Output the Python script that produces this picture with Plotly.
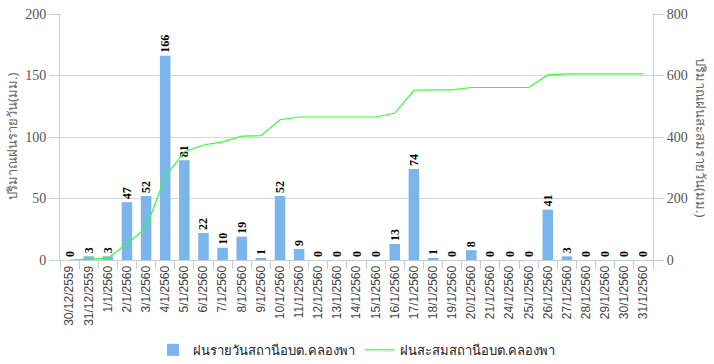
import plotly.graph_objects as go

categories = ["30/12/2559", "31/12/2559", "1/1/2560", "2/1/2560", "3/1/2560", "4/1/2560",
              "5/1/2560", "6/1/2560", "7/1/2560", "8/1/2560", "9/1/2560", "10/1/2560",
              "11/1/2560", "12/1/2560", "13/1/2560", "14/1/2560", "15/1/2560", "16/1/2560",
              "17/1/2560", "18/1/2560", "19/1/2560", "20/1/2560", "21/1/2560", "24/1/2560",
              "25/1/2560", "26/1/2560", "27/1/2560", "28/1/2560", "29/1/2560", "30/1/2560",
              "31/1/2560"]
daily_rain = [0, 3, 3, 47, 52, 166, 81, 22, 10, 19, 1, 52, 9, 0, 0, 0, 0, 13, 74, 1, 0, 8,
              0, 0, 0, 41, 3, 0, 0, 0, 0]
cumulative_rain = [0, 3, 6, 53, 105, 271, 352, 374, 384, 403, 404, 456, 465, 465, 465, 465,
                   465, 478, 552, 553, 553, 561, 561, 561, 561, 602, 605, 605, 605, 605, 605]

left_ticks = [0, 50, 100, 150, 200]
right_ticks = [0, 200, 400, 600, 800]

axis_col = "#c0d0e0"
grid_col = "#d8d8d8"

fig = go.Figure()
fig.add_trace(go.Bar(
    x=categories, y=daily_rain, name="ฝนรายวันสถานีอบต.คลองพา",
    marker_color="#7cb5ec", marker_line_width=0,
    text=[str(v) for v in daily_rain], textposition="outside", textangle=-90,
    constraintext="none",
    textfont=dict(family="Liberation Serif", size=12, color="#000000", weight="bold"),
    cliponaxis=False, yaxis="y",
))
fig.add_trace(go.Scatter(
    x=categories, y=cumulative_rain, name="ฝนสะสมสถานีอบต.คลองพา",
    mode="lines", line=dict(color="#33ff33", width=1.2), yaxis="y2",
))

fig.update_layout(
    width=714, height=364,
    margin=dict(l=60, r=61, t=14, b=104, autoexpand=False),
    paper_bgcolor="white", plot_bgcolor="white",
    bargap=0.45,
    showlegend=True,
    legend=dict(orientation="h", x=0.5, xanchor="center", xref="container",
                y=0.08, yanchor="top", yref="container",
                font=dict(family="Liberation Sans", size=13, color="#222222"),
                itemwidth=30, tracegroupgap=0),
    xaxis=dict(
        type="category", tickangle=-90, automargin=False,
        tickfont=dict(family="Liberation Sans", size=12, color="#444444"),
        showline=True, linecolor=axis_col, linewidth=1,
        ticks="outside", tickson="boundaries", ticklen=8, tickcolor=axis_col,
        showgrid=False, range=[-0.5, len(categories) - 0.5],
    ),
    yaxis=dict(
        range=[0, 200], tickvals=left_ticks, automargin=False,
        tickfont=dict(family="Liberation Serif", size=14, color="#555555"),
        showgrid=True, gridcolor=grid_col, gridwidth=1,
        showline=True, linecolor=axis_col, ticks="outside", ticklen=10, tickcolor=axis_col,
        zeroline=False,
    ),
    yaxis2=dict(
        range=[0, 800], tickvals=right_ticks, overlaying="y", side="right", automargin=False,
        tickfont=dict(family="Liberation Serif", size=14, color="#555555"),
        showgrid=False, showline=True, linecolor=axis_col,
        ticks="outside", ticklen=10, tickcolor=axis_col, zeroline=False,
    ),
    annotations=[
        dict(text="ปริมาณฝนรายวัน(มม.)", textangle=-90, xref="paper", yref="paper",
             x=0.0, xshift=-48, y=0.5, showarrow=False, xanchor="center", yanchor="middle",
             font=dict(family="Noto Sans", size=13, color="#666666")),
        dict(text="ปริมาณฝนสะสมรายวัน(มม.)", textangle=90, xref="paper", yref="paper",
             x=1.0, xshift=48, y=0.5, showarrow=False, xanchor="center", yanchor="middle",
             font=dict(family="Noto Sans", size=13, color="#666666")),
    ],
)

fig.write_html("out.html", config={"displayModeBar": False},
               post_script="document.body.style.margin='0';")
